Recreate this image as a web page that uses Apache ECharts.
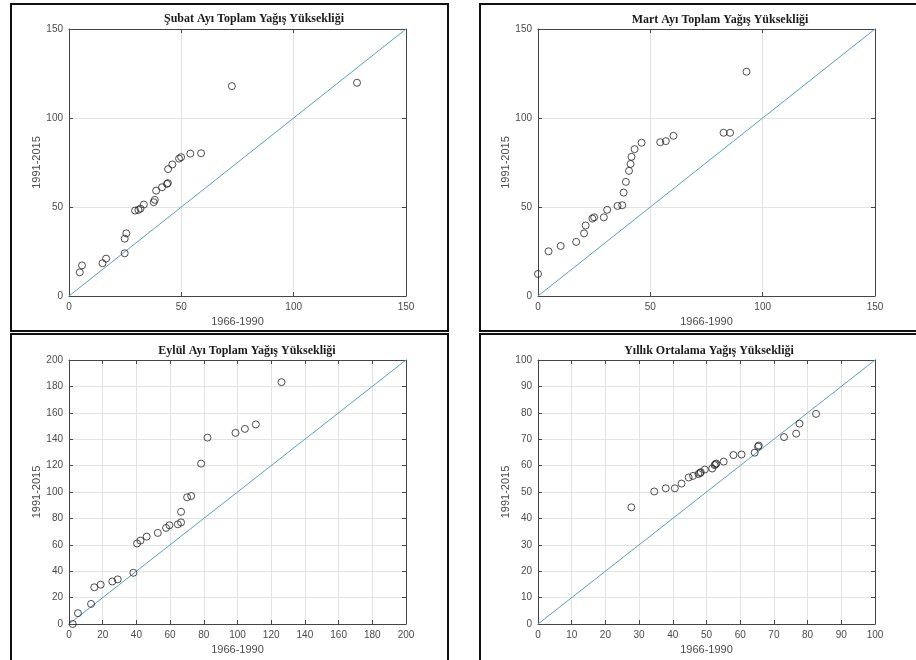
<!DOCTYPE html>
<html>
<head>
<meta charset="utf-8">
<script src="https://cdn.jsdelivr.net/npm/echarts@6/dist/echarts.min.js"></script>
<style>
  html, body { margin: 0; padding: 0; background: #fff; }
  #main { width: 916px; height: 660px; }
</style>
</head>
<body>
<div id="main"></div>
<script>
// panel titles
var titles = [
    'Şubat Ayı Toplam Yağış Yüksekliği',
    'Mart Ayı Toplam Yağış Yüksekliği',
    'Eylül Ayı Toplam Yağış Yüksekliği',
    'Yıllık Ortalama Yağış Yüksekliği'
];
var xName = '1966-1990';
var yName = '1991-2015';

// axis limits per panel (x and y same)
var axisMax = [150, 150, 200, 100];
var axisStep = [50, 50, 20, 10];

// Şubat
var subatX = [4.8, 5.8, 14.9, 16.5, 24.8, 24.8, 25.5, 29.4, 30.9, 31.8, 33.3, 37.7, 38.2, 38.8, 41.4, 43.6, 44.0, 44.1, 46.0, 49.0, 49.9, 54.0, 58.8, 72.5, 128.2];
var subatY = [13.3, 17.2, 18.4, 21.0, 24.0, 32.2, 35.2, 48.0, 48.4, 49.1, 51.4, 52.7, 54.0, 59.2, 61.1, 63.0, 63.4, 71.3, 73.9, 77.2, 78.0, 80.0, 80.2, 117.9, 119.8];
// Mart
var martX = [0.0, 4.7, 10.1, 17.0, 20.5, 21.2, 24.2, 25.0, 29.3, 30.8, 35.4, 37.5, 38.1, 39.1, 40.5, 41.2, 41.6, 43.0, 46.1, 54.4, 56.9, 60.3, 82.6, 85.5, 92.8];
var martY = [12.4, 25.1, 28.1, 30.4, 35.2, 39.6, 43.5, 44.2, 44.2, 48.4, 50.6, 51.0, 58.1, 64.1, 70.3, 74.2, 78.2, 82.5, 86.1, 86.4, 87.0, 90.0, 91.7, 91.7, 126.0];
// Eylül
var eylulX = [2.2, 5.3, 13.1, 15.0, 18.8, 25.7, 28.9, 38.2, 40.4, 42.4, 46.1, 52.7, 57.6, 59.6, 64.6, 66.5, 66.5, 70.1, 72.5, 78.4, 82.2, 98.8, 104.4, 110.9, 126.1];
var eylulY = [0.0, 8.2, 15.2, 27.8, 29.8, 32.2, 33.8, 38.8, 61.0, 63.2, 66.2, 69.0, 72.8, 74.8, 75.5, 77.0, 85.0, 96.0, 97.0, 121.5, 141.2, 144.8, 147.8, 151.2, 183.2];
// Yıllık
var yillikX = [27.7, 34.5, 37.9, 40.6, 42.6, 44.7, 46.0, 47.6, 48.1, 48.3, 49.5, 51.7, 52.4, 52.7, 52.9, 55.1, 58.0, 60.4, 64.3, 65.3, 65.5, 73.0, 76.6, 77.6, 82.5];
var yillikY = [44.2, 50.2, 51.4, 51.4, 53.2, 55.5, 56.1, 56.8, 57.2, 57.5, 58.5, 58.9, 60.2, 60.5, 60.8, 61.5, 64.0, 64.2, 64.9, 67.2, 67.6, 70.8, 72.1, 75.9, 79.6];

var panelX = [subatX, martX, eylulX, yillikX];
var panelY = [subatY, martY, eylulY, yillikY];

// layout of the four axes boxes
var grids = [
    {left: 69, top: 29, width: 337, height: 267},
    {left: 538, top: 29, width: 337, height: 267},
    {left: 69, top: 360, width: 337, height: 264},
    {left: 538, top: 360, width: 337, height: 264}
];
var titlePos = [[254, 19], [720, 20], [247, 351], [709, 351]];

var boxColor = '#454545';
var labelColor = '#4a4a4a';
var gridColor = '#e3e3e3';

function pairs(xs, ys) {
    var out = [];
    for (var i = 0; i < xs.length; i++) {
        out.push([xs[i], ys[i]]);
    }
    return out;
}

var xAxes = [], yAxes = [], series = [], titleList = [];

for (var p = 0; p < 4; p++) {
    titleList.push({
        text: titles[p],
        left: titlePos[p][0],
        top: titlePos[p][1],
        textAlign: 'center',
        textVerticalAlign: 'middle',
        padding: 0,
        textStyle: {fontFamily: 'Liberation Serif', fontWeight: 'bold', fontSize: 12, color: '#1a1a1a'}
    });
    var common = {
        type: 'value', gridIndex: p, min: 0, max: axisMax[p], interval: axisStep[p],
        axisLine: {show: true, onZero: false, lineStyle: {color: boxColor, width: 1}},
        axisTick: {show: true, inside: true, length: 4, lineStyle: {color: boxColor}}
    };
    // bottom / left axes with labels and grid
    xAxes.push(Object.assign({}, common, {
        position: 'bottom',
        name: xName, nameLocation: 'middle', nameGap: 20,
        nameTextStyle: {fontFamily: 'Liberation Sans', fontSize: 11, color: labelColor},
        axisLabel: {fontFamily: 'Liberation Sans', fontSize: 10, color: labelColor, margin: 6},
        splitLine: {show: true, lineStyle: {color: gridColor, width: 1}}
    }));
    yAxes.push(Object.assign({}, common, {
        position: 'left',
        name: yName, nameLocation: 'middle', nameGap: 25,
        nameTextStyle: {fontFamily: 'Liberation Sans', fontSize: 11, color: labelColor},
        axisLabel: {fontFamily: 'Liberation Sans', fontSize: 10, color: labelColor, margin: 6},
        splitLine: {show: true, lineStyle: {color: gridColor, width: 1}}
    }));
}
// top / right axes closing the box
for (var p = 0; p < 4; p++) {
    var side = {
        type: 'value', gridIndex: p, min: 0, max: axisMax[p], interval: axisStep[p],
        axisLine: {show: true, onZero: false, lineStyle: {color: boxColor, width: 1}},
        axisTick: {show: true, inside: true, length: 4, lineStyle: {color: boxColor}},
        axisLabel: {show: false},
        splitLine: {show: false}
    };
    xAxes.push(Object.assign({}, side, {position: 'top'}));
    yAxes.push(Object.assign({}, side, {position: 'right'}));
}

for (var p = 0; p < 4; p++) {
    // 1:1 line
    series.push({
        type: 'line', xAxisIndex: p, yAxisIndex: p,
        data: [[0, 0], [axisMax[p], axisMax[p]]],
        showSymbol: false, silent: true, z: 1,
        lineStyle: {color: '#5c9ebb', width: 1}
    });
    series.push({
        type: 'scatter', xAxisIndex: p, yAxisIndex: p,
        data: pairs(panelX[p], panelY[p]),
        symbol: 'circle', symbolSize: 7, z: 3,
        itemStyle: {color: 'rgba(0,0,0,0)', borderColor: '#222', borderWidth: 1}
    });
}

// black frames around each figure cell
var frames = [
    {x: 11, y: 4, width: 437, height: 327},
    {x: 480, y: 4, width: 440, height: 327},
    {x: 11, y: 334, width: 437, height: 330},
    {x: 480, y: 334, width: 440, height: 330}
];
var graphics = frames.map(function (f) {
    return {type: 'rect', shape: f, silent: true,
        style: {fill: 'none', stroke: '#111', lineWidth: 2}};
});

var myChart = echarts.init(document.getElementById('main'));
myChart.setOption({
    animation: false,
    title: titleList,
    grid: grids,
    xAxis: xAxes,
    yAxis: yAxes,
    series: series,
    graphic: graphics
});
</script>
</body>
</html>
